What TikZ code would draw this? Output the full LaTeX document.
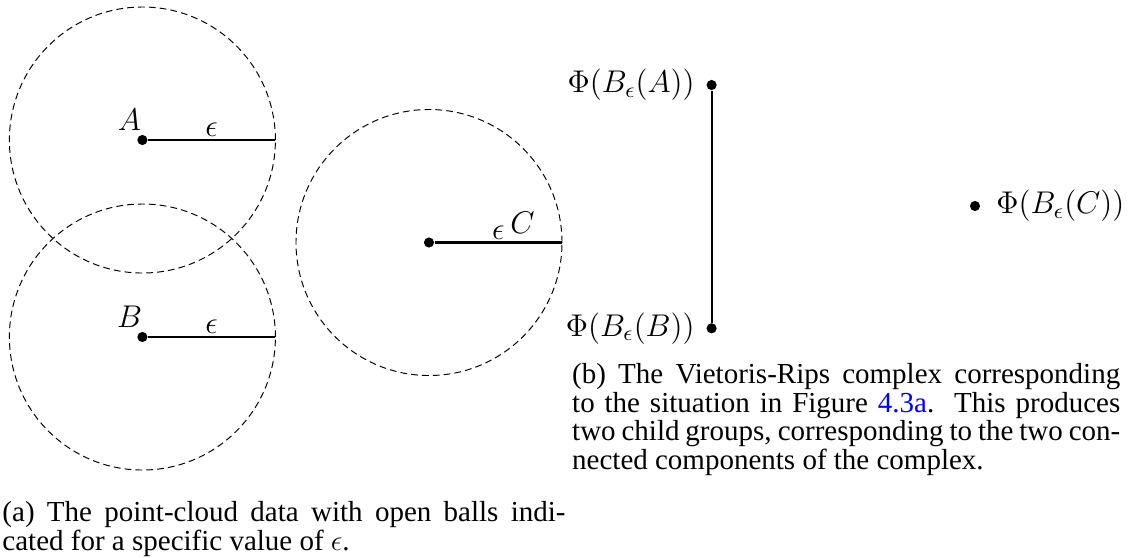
\RequirePackage{fix-cm}
\documentclass[tikz,border=0pt]{standalone}
\usepackage{amsmath,amssymb}
\usepackage{xcolor}
\usepackage{fontspec}
\setmainfont{Liberation Serif}
\usetikzlibrary{positioning}
\newcommand{\ballr}{55.04pt}
\newcommand{\capline}[2]{\makebox[#1][s]{#2}}
\newcommand{\capfont}{\fontsize{12}{11.8}\selectfont\lineskiplimit=-6pt\relax}
\tikzset{
  pointdot/.style={circle,fill=black,inner sep=0pt,minimum size=4.2pt},
  ball/.style={draw,line width=0.4pt,dash pattern=on 2.8pt off 1.7pt},
  radline/.style={line width=0.85pt},
  ptlabel/.style={font=\fontsize{13}{15}\selectfont},
  eplabel/.style={font=\fontsize{13}{15}\selectfont,inner sep=1pt},
  captext/.style={anchor=north west,align=left,inner sep=0pt,font=\capfont},
}
\begin{document}
\begin{tikzpicture}[x=0.4138pt,y=-0.4138pt]
  \useasboundingbox (0,0) rectangle (1134,557);

  % point cloud with open balls
  \node[pointdot] (a) at (142.4,140) {};
  \node[pointdot] (b) at (142.4,337) {};
  \node[pointdot] (c) at (429,242.5) {};
  \draw[ball] (a.center) circle[radius=\ballr];
  \draw[ball] (b.center) circle[radius=\ballr];
  \draw[ball] (c.center) circle[radius=\ballr];
  \path (a.center) ++(\ballr,0) coordinate (ae);
  \path (b.center) ++(\ballr,0) coordinate (be);
  \path (c.center) ++(\ballr,0) coordinate (ce);

  \draw[radline] (a) -- (ae) node[midway,above,eplabel] {$\epsilon$};
  \draw[radline] (b) -- (be) node[midway,above,eplabel] {$\epsilon$};
  \draw[radline] (c) -- (ce) node[midway,above,eplabel] {$\epsilon$}
    node[pos=0.69,above,ptlabel] (lc) {$C$};
  \node[ptlabel] (la) at (129.5,120) {$A$};
  \node[ptlabel] (lb) at (129.5,317) {$B$};

  % Vietoris-Rips complex
  \node[pointdot] (pa) at (711.6,85) {};
  \node[pointdot] (pb) at (711.6,328.3) {};
  \node[pointdot] (pc) at (975,206) {};
  \draw[radline] (pa) -- (pb);
  \node[ptlabel, left=1.2pt of pa] (lpa) {$\Phi(B_\epsilon(A))$};
  \node[ptlabel, left=1.2pt of pb] (lpb) {$\Phi(B_\epsilon(B))$};
  \node[ptlabel, right=3pt of pc] (lpc) {$\Phi(B_\epsilon(C))$};

  % captions
  \node[captext] (capa) at (2,501) {%
    \capline{233pt}{(a) The point-cloud data with open balls indi-}\\
    cated for a specific value of $\epsilon$.};
  \node[captext] (capb) at (571.7,363) {%
    \capline{226.8pt}{(b) The Vietoris-Rips complex corresponding}\\
    \capline{226.8pt}{to the situation in Figure \textcolor{blue}{4.3a}.\ \ This produces}\\
    \capline{226.8pt}{two child groups, corresponding to the two con-}\\
    nected components of the complex.};
\end{tikzpicture}
\end{document}
